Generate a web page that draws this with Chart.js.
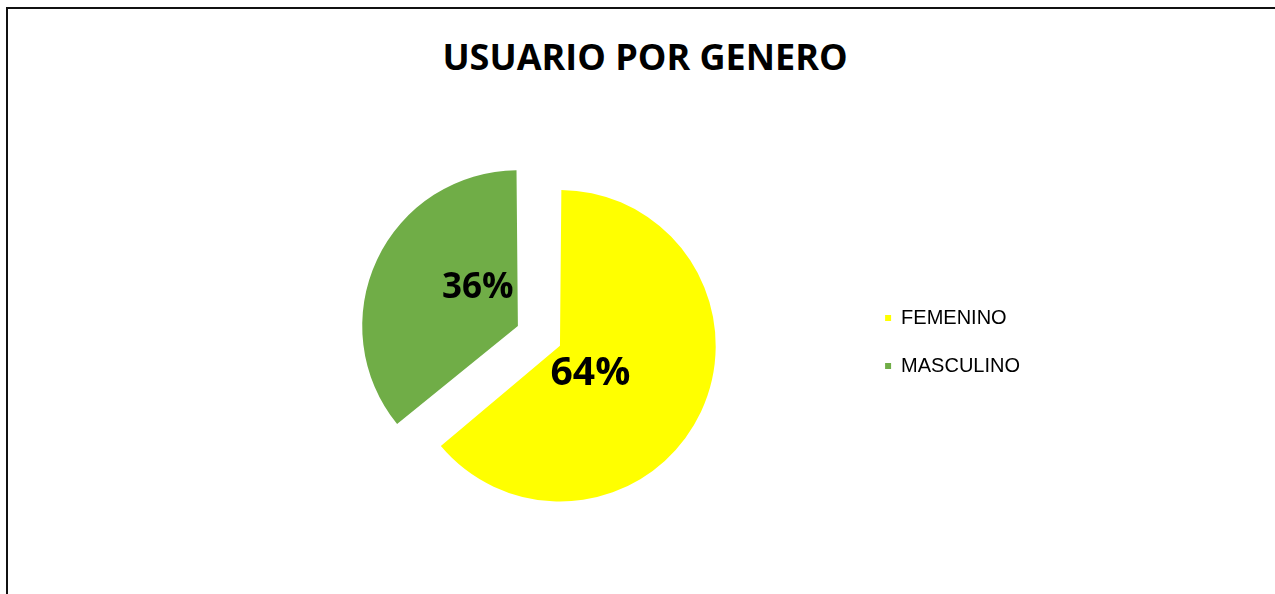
<!DOCTYPE html>
<html>
<head>
<meta charset="utf-8">
<script src="https://cdn.jsdelivr.net/npm/chart.js@4/dist/chart.umd.min.js"></script>
<style>
  html, body { margin: 0; padding: 0; background: #fff; overflow: hidden; }
  #frame {
    position: absolute; left: 6px; top: 7px;
    width: 1400px; height: 700px;
    border: 2px solid #111;
  }
  #title {
    position: absolute; left: 0; top: 32px; width: 1290px;
    text-align: center; line-height: 36px;
    font: bold 36px "Open Sans", sans-serif; color: #000;
  }
  #wrap { position: absolute; left: 0; top: 0; width: 1275px; height: 594px; }
</style>
</head>
<body>
<div id="frame"></div>
<div id="title">USUARIO POR GENERO</div>
<div id="wrap"><canvas id="myChart" width="1275" height="594"></canvas></div>
<script>
const categories = ['FEMENINO', 'MASCULINO'];
const values = [64, 36];
const colors = ['#FFFF00', '#70AD47'];

// percentage labels drawn inside each slice
const pctLabels = {
    id: 'pctLabels',
    afterDatasetsDraw(chart, args, opts) {
        const ctx = chart.ctx;
        const meta = chart.getDatasetMeta(0);
        const total = values.reduce((a, b) => a + b, 0);
        meta.data.forEach((arc, i) => {
            const p = arc.getProps(['x', 'y', 'startAngle', 'endAngle', 'outerRadius']);
            const mid = (p.startAngle + p.endAngle) / 2;
            // chart.js moves an arc by offset / 4
            const off = (arc.options.offset || 0) / 4;
            const turn = mid + opts.turn * Math.PI / 180;
            const dist = opts.dist[i] * p.outerRadius;
            const x = p.x + Math.cos(mid) * off + Math.cos(turn) * dist;
            const y = p.y + Math.sin(mid) * off + Math.sin(turn) * dist;
            ctx.save();
            ctx.font = 'bold ' + opts.sizes[i] + 'px "Open Sans", sans-serif';
            ctx.fillStyle = '#000';
            ctx.textAlign = 'center';
            ctx.textBaseline = 'middle';
            ctx.fillText(Math.round(values[i] / total * 100) + '%', x, y);
            ctx.restore();
        });
    }
};

const ctx = document.getElementById('myChart').getContext('2d');
new Chart(ctx, {
    type: 'pie',
    data: {
        labels: categories,
        datasets: [{
            data: values,
            backgroundColor: colors,
            borderWidth: 0,
            // big slice also grows by offset/4, so the small one gets a larger push
            offset: [35, 151]
        }]
    },
    options: {
        responsive: false,
        animation: false,
        radius: 147,
        layout: {
            padding: { left: 247, right: 245, top: 171, bottom: 81 }
        },
        plugins: {
            title: { display: false },
            tooltip: { enabled: false },
            legend: {
                position: 'right',
                labels: {
                    boxWidth: 6,
                    boxHeight: 6,
                    padding: 28,
                    color: '#000',
                    font: { family: '"Liberation Sans", Arial, sans-serif', size: 20 }
                }
            },
            pctLabels: { turn: 18, dist: [0.284, 0.374], sizes: [39, 35] }
        }
    },
    plugins: [pctLabels]
});
</script>
</body>
</html>
